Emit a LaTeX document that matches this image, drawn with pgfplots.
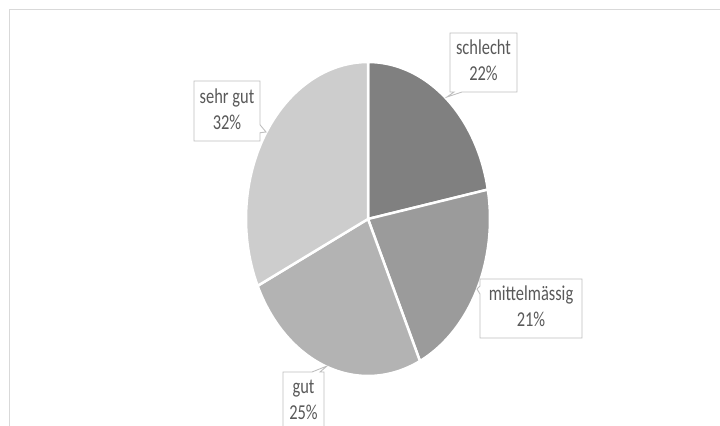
\documentclass[border=0pt]{standalone}
\usepackage{pgfplots}
\pgfplotsset{compat=1.18}
\usepackage{pgfplotstable}
\usepackage{graphicx}
\usepackage{fontspec}
\setmainfont{Carlito}
\usetikzlibrary{shapes.callouts}
\definecolor{cA}{HTML}{808080}
\definecolor{cB}{HTML}{9B9B9B}
\definecolor{cC}{HTML}{B3B3B3}
\definecolor{cD}{HTML}{CDCDCD}
\definecolor{txt}{HTML}{595959}
\definecolor{boxc}{HTML}{BFBFBF}
\definecolor{framec}{HTML}{D9D9D9}
\newcommand\lbl[2]{\scalebox{1}[1.29]{\fontsize{16.5}{20.2}\selectfont\begin{tabular}{@{}c@{}}#1\\#2\end{tabular}}}
\begin{document}
\begin{tikzpicture}
\pgfplotstableread[col sep=comma]{
label,value
schlecht,22
mittelmässig,21
gut,25
sehr gut,32
}\piedata
\pgfplotstablegetelem{0}{value}\of\piedata \let\vA\pgfplotsretval
\pgfplotstablegetelem{1}{value}\of\piedata \let\vB\pgfplotsretval
\pgfplotstablegetelem{2}{value}\of\piedata \let\vC\pgfplotsretval
\pgfplotstablegetelem{3}{value}\of\piedata \let\vD\pgfplotsretval
\pgfmathsetmacro\aA{90}
\pgfmathsetmacro\aB{\aA-3.6*\vA}
\pgfmathsetmacro\aC{\aB-3.6*\vB}
\pgfmathsetmacro\aD{\aC-3.6*\vC}
\pgfmathsetmacro\aE{\aD-3.6*\vD}
\begin{axis}[name=ax, width=720bp, height=425bp, scale only axis,
  xmin=0, xmax=720, ymin=0, ymax=425, hide axis, clip=false]
\draw[color=framec, line width=1.5bp] (9.5,-20) -- (9.5,415.5) -- (740,415.5);
\addplot[fill=cA, draw=white, line width=2.5bp, domain=\aB:\aA, samples=60, variable=\t]
  ({368+122*cos(t)}, {206+157*sin(t)}) -- (368,206) -- cycle;
\addplot[fill=cB, draw=white, line width=2.5bp, domain=\aC:\aB, samples=60, variable=\t]
  ({368+122*cos(t)}, {206+157*sin(t)}) -- (368,206) -- cycle;
\addplot[fill=cC, draw=white, line width=2.5bp, domain=\aD:\aC, samples=60, variable=\t]
  ({368+122*cos(t)}, {206+157*sin(t)}) -- (368,206) -- cycle;
\addplot[fill=cD, draw=white, line width=2.5bp, domain=\aE:\aD, samples=60, variable=\t]
  ({368+122*cos(t)}, {206+157*sin(t)}) -- (368,206) -- cycle;
\tikzset{cl/.style={rectangle callout, draw=boxc, line width=0.9bp, fill=white, text=txt,
  inner sep=0pt, callout pointer width=8bp, minimum height=59bp}}
\node[cl, minimum width=67bp, callout absolute pointer={(447,328)}] at (483.5,362.5) {\lbl{schlecht}{\vA\%}};
\node[cl, minimum width=102bp, callout absolute pointer={(477,136)}] at (531,116.5) {\lbl{mittelmässig}{\vB\%}};
\node[cl, minimum width=41bp, callout absolute pointer={(327,59)}] at (303.5,23.5) {\lbl{gut}{\vC\%}};
\node[cl, minimum width=66bp, minimum height=60bp, callout absolute pointer={(266,293)}] at (227,314) {\lbl{sehr gut}{\vD\%}};
\end{axis}
\pgfresetboundingbox
\useasboundingbox (ax.south west) rectangle (ax.north east);
\end{tikzpicture}
\end{document}
